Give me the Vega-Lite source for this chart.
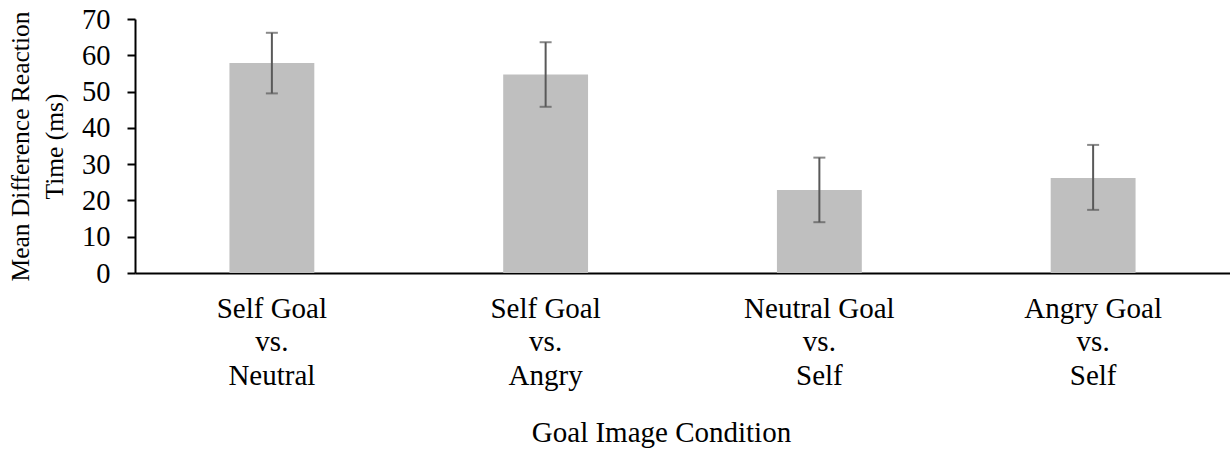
{
  "$schema": "https://vega.github.io/schema/vega-lite/v6.json",
  "width": 1095,
  "height": 254,
  "autosize": {"type": "none"},
  "padding": {"left": 135, "top": 19, "right": 0, "bottom": 179},
  "background": "white",
  "config": {
    "view": {"stroke": null},
    "font": "Liberation Serif",
    "axisY": {
      "titleFont": "Liberation Serif",
      "titleFontSize": 25.5,
      "titleFontWeight": "normal",
      "titleColor": "black",
      "titleLineHeight": 34,
      "titleAngle": 270,
      "titleBaseline": "top",
      "titleX": -127,
      "labelOverlap": false,
      "labelFont": "Liberation Serif",
      "labelFontSize": 28.5,
      "labelColor": "black",
      "labelPadding": 17,
      "tickSize": 8,
      "tickColor": "black",
      "tickWidth": 2,
      "domainColor": "black",
      "domainWidth": 2,
      "grid": false
    }
  },
  "data": {
    "values": [
      {"condition": "Self Goal|vs.|Neutral", "mean": 57.9, "lower": 49.5, "upper": 66.2},
      {"condition": "Self Goal|vs.|Angry", "mean": 54.7, "lower": 45.8, "upper": 63.6},
      {"condition": "Neutral Goal|vs.|Self", "mean": 22.9, "lower": 14.0, "upper": 31.8},
      {"condition": "Angry Goal|vs.|Self", "mean": 26.2, "lower": 17.4, "upper": 35.3}
    ]
  },
  "encoding": {
    "x": {
      "field": "condition",
      "type": "nominal",
      "sort": null,
      "scale": {"paddingInner": 0.69, "paddingOuter": 0.345},
      "axis": {
        "title": "Goal Image Condition",
        "titleFont": "Liberation Serif",
        "titleFontSize": 29,
        "titleFontWeight": "normal",
        "titleColor": "black",
        "titleX": 526,
        "titleY": 168,
        "titleBaseline": "alphabetic",
        "titleAnchor": "start",
        "titleAlign": "center",
        "labelExpr": "split(datum.label, '|')",
        "labelAngle": 0,
        "labelFont": "Liberation Serif",
        "labelFontSize": 29,
        "labelColor": "black",
        "labelLineHeight": 33.5,
        "labelPadding": 21,
        "labelAlign": "center",
        "labelBaseline": "top",
        "ticks": false,
        "domainColor": "black",
        "domainWidth": 2
      }
    }
  },
  "layer": [
    {
      "mark": {"type": "bar", "color": "#BFBFBF"},
      "encoding": {
        "y": {
          "field": "mean",
          "type": "quantitative",
          "scale": {"domain": [0, 70], "nice": false},
          "axis": {"title": ["Mean Difference Reaction", "Time (ms)"], "values": [0, 10, 20, 30, 40, 50, 60, 70]}
        }
      }
    },
    {
      "mark": {"type": "rule", "color": "#595959", "strokeWidth": 2},
      "encoding": {
        "y": {"field": "lower", "type": "quantitative", "axis": {"title": ["Mean Difference Reaction", "Time (ms)"], "values": [0, 10, 20, 30, 40, 50, 60, 70]}},
        "y2": {"field": "upper"}
      }
    },
    {
      "mark": {"type": "tick", "color": "#595959", "thickness": 2, "size": 12},
      "encoding": {
        "y": {"field": "lower", "type": "quantitative", "axis": {"title": ["Mean Difference Reaction", "Time (ms)"], "values": [0, 10, 20, 30, 40, 50, 60, 70]}}
      }
    },
    {
      "mark": {"type": "tick", "color": "#595959", "thickness": 2, "size": 12},
      "encoding": {
        "y": {"field": "upper", "type": "quantitative", "axis": {"title": ["Mean Difference Reaction", "Time (ms)"], "values": [0, 10, 20, 30, 40, 50, 60, 70]}}
      }
    }
  ]
}
